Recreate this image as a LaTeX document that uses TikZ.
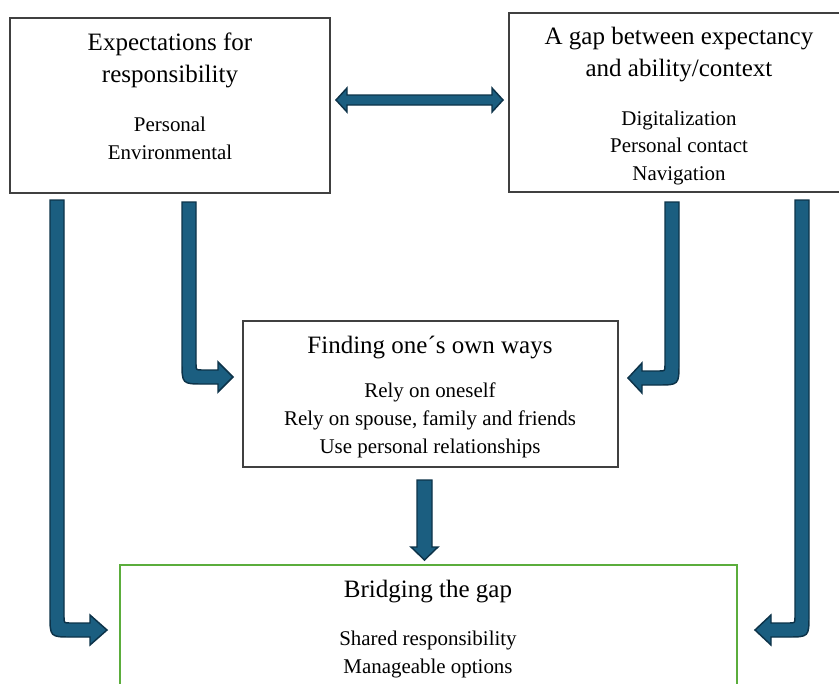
\documentclass[tikz,border=0pt]{standalone}
\usepackage{fontspec}
\setmainfont{Liberation Serif}
\usetikzlibrary{fit}
\definecolor{arrowfill}{HTML}{1B5E80}
\definecolor{arrowline}{HTML}{0D3349}
\definecolor{boxline}{HTML}{404040}
\definecolor{greenline}{HTML}{5BAD3C}
\tikzset{
  box/.style={draw=boxline, line width=0.9pt, inner sep=0pt, fill=white},
  greenbox/.style={draw=greenline, line width=1.2pt, inner sep=0pt, fill=white},
  titletext/.style={anchor=base, inner sep=0pt, font=\fontsize{18.75}{24}\selectfont},
  itemtext/.style={anchor=base, inner sep=0pt, font=\fontsize{15.7}{21}\selectfont},
  bigarrow/.style={fill=arrowfill, draw=arrowline, line width=1.1pt, line join=miter}
}
\begin{document}
\begin{tikzpicture}[x=0.75pt, y=-0.75pt]
\useasboundingbox (0,0) rectangle (839,683);
\fill[white] (0,0) rectangle (839,683);

% boxes
\node[box, fit={(10,18) (330,193)}] (b1) {};
\node[box, fit={(509,13) (848,192)}] (b2) {};
\node[box, fit={(243,321) (618,467)}] (b3) {};
\node[greenbox, fit={(120,565) (737,700)}] (b4) {};

% texts box 1
\node[titletext] (t1a) at (170,50) {Expectations for};
\node[titletext] (t1b) at (170,82) {responsibility};
\node[itemtext] (i1a) at (170,131) {Personal};
\node[itemtext] (i1b) at (170,159) {Environmental};

% texts box 2
\node[titletext] (t2a) at (679,44) {A gap between expectancy};
\node[titletext] (t2b) at (679,76) {and ability/context};
\node[itemtext] (i2a) at (679,125) {Digitalization};
\node[itemtext] (i2b) at (679,152) {Personal contact};
\node[itemtext] (i2c) at (679,180) {Navigation};

% texts box 3
\node[titletext] (t3a) at (430,353) {Finding one´s own ways};
\node[itemtext] (i3a) at (430,397) {Rely on oneself};
\node[itemtext] (i3b) at (430,425) {Rely on spouse, family and friends};
\node[itemtext] (i3c) at (430,453) {Use personal relationships};

% texts box 4
\node[titletext] (t4a) at (428,597) {Bridging the gap};
\node[itemtext] (i4a) at (428,645) {Shared responsibility};
\node[itemtext] (i4b) at (428,673) {Manageable options};

% double arrow between b1 and b2
\draw[bigarrow] (336,100) -- (347,88) -- (347,95) -- (492,95) -- (492,88) -- (503,100)
  -- (492,112) -- (492,105) -- (347,105) -- (347,112) -- cycle;

% L1: b1 -> b4
\draw[bigarrow] (50,200) -- (64,200) -- (64,617) .. controls (64,623) .. (70,623)
  -- (90,623) -- (90,615) -- (107,630) -- (90,645) -- (90,637) -- (72,637)
  .. controls (50,637) .. (50,615) -- cycle;

% L2: b1 -> b3
\draw[bigarrow] (182,202) -- (196,202) -- (196,364) .. controls (196,370) .. (202,370)
  -- (218,370) -- (218,362) -- (233,377) -- (218,392) -- (218,384) -- (204,384)
  .. controls (182,384) .. (182,362) -- cycle;

% R1: b2 -> b3
\draw[bigarrow] (665,202) -- (679,202) -- (679,363) .. controls (679,385) .. (657,385)
  -- (642,385) -- (642,393) -- (628,378) -- (642,363) -- (642,371) -- (659,371)
  .. controls (665,371) .. (665,365) -- cycle;

% R2: b2 -> b4
\draw[bigarrow] (795,200) -- (809,200) -- (809,615) .. controls (809,637) .. (787,637)
  -- (771,637) -- (771,645) -- (755,630) -- (771,615) -- (771,623) -- (789,623)
  .. controls (795,623) .. (795,617) -- cycle;

% down arrow: b3 -> b4
\draw[bigarrow] (417,480) -- (432,480) -- (432,547) -- (438,547) -- (424.5,560)
  -- (411,547) -- (417,547) -- cycle;
\end{tikzpicture}
\end{document}
